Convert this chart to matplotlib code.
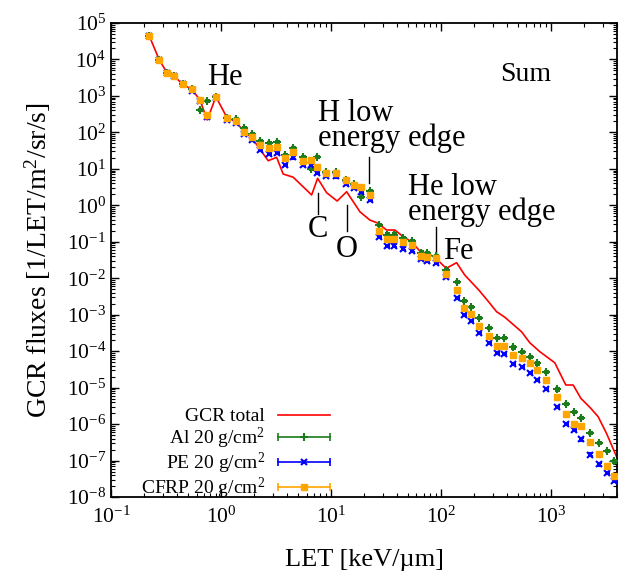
import matplotlib
matplotlib.use('Agg')
import matplotlib.pyplot as plt
from matplotlib.lines import Line2D
from matplotlib.legend_handler import HandlerBase
from matplotlib.ticker import LogLocator, LogFormatterMathtext, NullFormatter
import numpy as np

plt.rcParams['font.family'] = ['Liberation Serif', 'DejaVu Serif']
plt.rcParams['mathtext.fontset'] = 'custom'
plt.rcParams['mathtext.rm'] = 'Liberation Serif'
plt.rcParams['mathtext.it'] = 'Liberation Serif:italic'
plt.rcParams['mathtext.bf'] = 'Liberation Serif:bold'

# GCR total (free space)
gcr_let = [0.223, 0.275, 0.325, 0.374, 0.449, 0.545, 0.644, 0.75, 0.90, 1.13,
           1.37, 1.62, 1.90, 2.23, 2.69, 3.21, 3.68, 4.54, 6.68, 7.57,
           9.14, 11.4, 13.9, 18.4, 22.6, 26.6, 32.1, 38.2, 45.4, 54.2,
           65.3, 76.7, 90.1, 112, 139, 165, 222, 279, 321, 382,
           542, 644, 794, 1087, 1368, 1596, 1875, 2311, 2692, 3206, 4150]
gcr_flux = [4.4e4, 9.7e3, 4.2e3, 3.5e3, 2.1e3, 1.5e3, 773, 219, 952, 259,
            196, 104, 73, 36.6, 16.7, 20.7, 7.2, 5.9, 1.92, 5.5,
            2.22, 1.31, 2.36, 0.66, 0.395, 0.327, 0.21, 0.21, 0.138, 0.1,
            0.053, 0.048, 0.035, 0.0187, 0.0267, 0.0122, 0.0047, 0.00205, 0.00121, 8.5e-4,
            3.4e-4, 1.7e-4, 9.7e-5, 4.8e-5, 1.18e-5, 1.18e-5, 5.1e-6, 2.7e-6, 1.6e-6, 5.6e-7, 9.3e-8]

# shielded spectra, common LET bins
let_bins = [0.223, 0.275, 0.325, 0.374, 0.449, 0.545, 0.644, 0.75, 0.90, 1.13,
            1.37, 1.62, 1.90, 2.26, 2.75, 3.25, 3.82, 4.54, 5.53, 6.54,
            7.46, 9.10, 11.2, 13.7, 16.2, 18.7, 22.5, 27.2, 32.2, 37.6,
            44.9, 54.5, 65.3, 75.4, 90.1, 112, 139, 163, 187, 223,
            273, 323, 376, 449, 548, 649, 750, 895, 1127, 1368,
            1618, 1892, 2263, 2742, 3228, 3740]
al_flux = [4.4e4, 9.7e3, 4.2e3, 3.5e3, 2.1e3, 1.5e3, 411, 726, 953, 253,
           233, 129, 90, 58, 50, 55.5, 24, 36.6, 21.5, 9.7,
           20.7, 8.2, 8.2, 4.9, 3.84, 1.74, 2.5, 0.288, 0.158, 0.158,
           0.128, 0.105, 0.0507, 0.0492, 0.0406, 0.0165, 0.00778, 0.00242, 0.00166, 7.96e-4,
           4.23e-4, 2.25e-4, 2.25e-4, 1.27e-4, 9.7e-5, 7.0e-5, 4.6e-5, 2.7e-5, 8.9e-6, 3.55e-6,
           2.1e-6, 1.44e-6, 5.8e-7, 3.1e-7, 1.86e-7, 9.5e-8]
pe_flux = [4.4e4, 9.7e3, 4.2e3, 3.5e3, 2.1e3, 1365, 726, 264, 877, 225,
           181, 88.5, 61.8, 32.9, 25.1, 27.7, 12.7, 20.5, 12.7, 12.4,
           7.55, 6.4, 6.2, 3.84, 2.98, 2.36, 1.43, 0.135, 0.075, 0.0789,
           0.0653, 0.0575, 0.033, 0.0296, 0.0267, 0.0108, 0.00281, 9.8e-4, 6.7e-4, 3.2e-4,
           1.64e-4, 9.06e-5, 8.4e-5, 4.4e-5, 3.74e-5, 2.47e-5, 1.6e-5, 9.0e-6, 3.0e-6, 1.02e-6,
           6.9e-7, 3.8e-7, 1.46e-7, 7.8e-8, 4.5e-8, 2.7e-8]
cfrp_flux = [4.4e4, 9.7e3, 4.2e3, 3.5e3, 2.1e3, 1.52e3, 773, 300, 953, 253,
             205, 104, 77, 45, 38, 40.5, 20.2, 29.5, 16.9, 17.5,
             10.9, 7.9, 7.9, 4.8, 3.72, 3.08, 1.92, 0.197, 0.117, 0.119,
             0.0973, 0.0841, 0.042, 0.0382, 0.0363, 0.0133, 0.00467, 0.0015, 0.00102, 4.9e-4,
             2.6e-4, 1.38e-4, 1.38e-4, 7.8e-5, 6.6e-5, 4.6e-5, 3.0e-5, 1.6e-5, 5.4e-6, 1.87e-6,
             1.02e-6, 8.95e-7, 3.2e-7, 1.5e-7, 7.1e-8, 3.8e-8]

REL_ERR = 0.07

series = [
    ('Al 20 g/cm$^2$', al_flux, '#1c7c1c', '+', 6.0, 1.5),
    ('PE 20 g/cm$^2$', pe_flux, '#0000ff', 'x', 4.0, 1.5),
    ('CFRP 20 g/cm$^2$', cfrp_flux, '#ffa500', 's', 3.8, 1.0),
]


class HandlerErrKey(HandlerBase):
    # gnuplot style key sample: bar with end caps and the point in the middle
    def create_artists(self, legend, orig_handle, xdescent, ydescent,
                       width, height, fontsize, trans):
        y = height / 2 - ydescent
        x0, x1 = -xdescent, width - xdescent
        c = orig_handle.get_color()
        arts = [Line2D([x0, x1], [y, y], color=c, lw=1.2, transform=trans)]
        m = orig_handle.get_marker()
        if m not in (None, 'None', ''):
            arts.append(Line2D([x0, x1], [y, y], ls='none', marker='|', ms=6,
                               mew=1.2, color=c, transform=trans))
            arts.append(Line2D([(x0 + x1) / 2], [y], ls='none', marker=m,
                               ms=orig_handle.get_markersize(),
                               mew=orig_handle.get_markeredgewidth(),
                               color=c, transform=trans))
        return arts


fig = plt.figure(figsize=(6.19, 5.72), dpi=100)
ax = fig.add_axes([0.1793, 0.1311, 0.8175, 0.8287])

ax.plot(gcr_let, gcr_flux, color='#ff0000', lw=1.2, zorder=2)

handles = [Line2D([], [], color='#ff0000', lw=1.2)]
labels = ['GCR total']
for name, flux, col, mk, ms, mew in series:
    f = np.array(flux)
    ax.errorbar(let_bins, f, yerr=[f * REL_ERR, f * REL_ERR], fmt=mk, color=col,
                ms=ms, mew=mew, elinewidth=0.9, capsize=1.8, capthick=0.9, zorder=3)
    handles.append(Line2D([], [], color=col, marker=mk, ms=ms, mew=mew))
    labels.append(name)

ax.set_xscale('log')
ax.set_yscale('log')
ax.set_xlim(0.1, 4000)
ax.set_ylim(1e-8, 1e5)

ax.xaxis.set_major_locator(LogLocator(base=10, numticks=20))
ax.yaxis.set_major_locator(LogLocator(base=10, numticks=20))
ax.xaxis.set_minor_locator(LogLocator(base=10, subs=np.arange(2, 10), numticks=20))
ax.yaxis.set_minor_locator(LogLocator(base=10, subs=np.arange(2, 10), numticks=20))
ax.xaxis.set_major_formatter(LogFormatterMathtext())
ax.yaxis.set_major_formatter(LogFormatterMathtext())
ax.xaxis.set_minor_formatter(NullFormatter())
ax.yaxis.set_minor_formatter(NullFormatter())
ax.tick_params(which='both', direction='in', top=True, right=True, labelsize=15.5)
ax.tick_params(which='major', length=6, width=1)
ax.tick_params(which='minor', length=3, width=0.8)
ax.tick_params(axis='x', pad=7)
for sp in ax.spines.values():
    sp.set_linewidth(1.3)

ax.set_xlabel('LET [keV/µm]', fontsize=19, labelpad=15)
ax.set_ylabel('GCR fluxes [1/LET/m$^2$/sr/s]', fontsize=20, labelpad=10)

# annotations (two-line labels anchored on the baseline of their last line)
ann = 22
ax.text(0.741, 2000, 'He', fontsize=ann)
ax.text(7.67, 42.4, 'H low\nenergy edge', fontsize=ann, linespacing=0.82)
ax.text(7.67, 0.138, 'C', fontsize=ann, ha='center')
ax.text(13.9, 0.039, 'O', fontsize=ann, ha='center')
ax.text(50.5, 0.395, 'He low\nenergy edge', fontsize=ann, linespacing=0.82)
ax.text(105, 0.033, 'Fe', fontsize=ann)
ax.text(343, 2620, 'Sum', fontsize=20)

ax.plot([22.3, 22.3], [21.5, 4.0], color='black', lw=1)
ax.plot([7.67, 7.67], [2.17, 0.577], color='black', lw=1)
ax.plot([13.9, 13.9], [1.02, 0.197], color='black', lw=1)
ax.plot([90.1, 90.1], [0.254, 0.046], color='black', lw=1)

ax.legend(handles, labels, handler_map={Line2D: HandlerErrKey()},
          loc='center', bbox_to_anchor=(0.246, 0.09), frameon=False,
          markerfirst=False, fontsize=14, handlelength=2.7, handletextpad=0.65,
          labelspacing=0.0, borderpad=0, borderaxespad=0)

fig.savefig('out.png', dpi=100)
